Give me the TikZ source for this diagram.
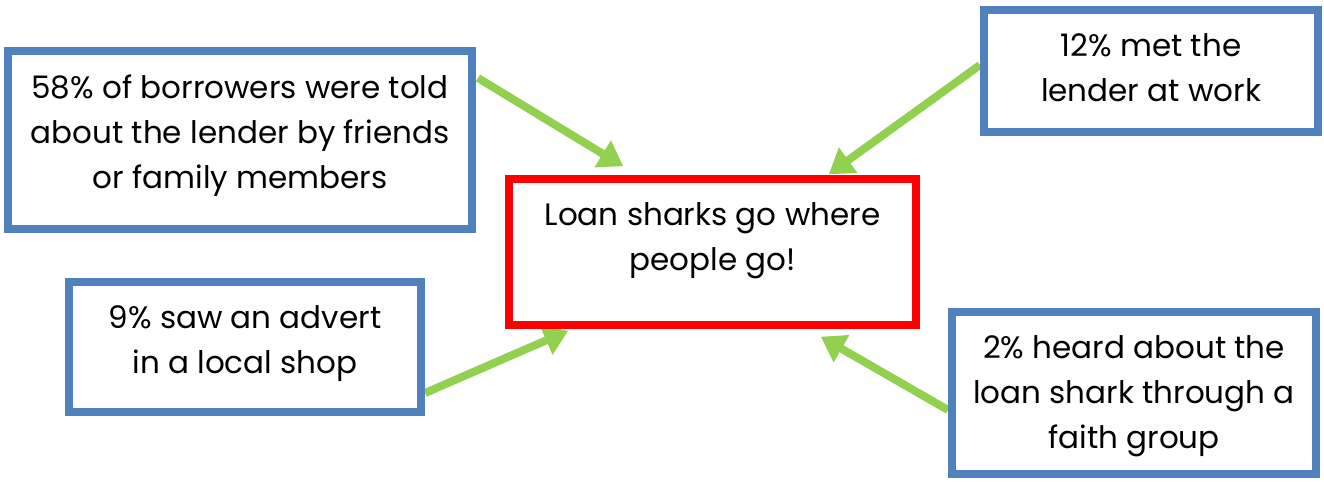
\documentclass[tikz,border=0pt]{standalone}
\usepackage{fontspec}
\setmainfont{Poppins}
\usepackage{xcolor}
\usepackage{tikz}
\usetikzlibrary{arrows.meta, positioning, calc, backgrounds}

\definecolor{boxblue}{HTML}{4F81BD}
\definecolor{arrowgreen}{HTML}{92D050}

\begin{document}
\begin{tikzpicture}[
    x=0.5pt, y=-0.5pt,
    every node/.style={font=\fontsize{15.5pt}{22.5pt}\selectfont},
    box/.style={
        draw=boxblue, line width=4pt, fill=white, inner sep=0pt
    },
    hubbox/.style={
        draw=red, line width=3.75pt, fill=white, inner sep=0pt
    },
    boxtext/.style={
        align=center, anchor=north, inner sep=0pt
    },
    arrow/.style={
        -{Triangle[length=12pt, width=15pt]}, line width=4pt, draw=arrowgreen
    }
]
\useasboundingbox (0,0) rectangle (1324,482);

% Boxes
\node[box, minimum width=232pt, minimum height=89pt] (friends) at (240,140) {};
\node[box, minimum width=167pt, minimum height=61pt] (work) at (1151,71) {};
\node[hubbox, minimum width=203.5pt, minimum height=73pt] (sharks) at (712.5,252) {};
\node[box, minimum width=176pt, minimum height=65pt] (shop) at (245,347) {};
\node[box, minimum width=182pt, minimum height=81pt] (faith) at (1134,393) {};

% Texts
\node[boxtext, below=13.5pt of friends.north] (friends_text) {58\% of borrowers were told\\about the lender by friends\\or family members};
\node[boxtext, below=13.5pt of work.north] (work_text) {12\% met the\\lender at work};
\node[boxtext, below=13.5pt of sharks.north] (sharks_text) {Loan sharks go where\\people go!};
\node[boxtext, below=13.5pt of shop.north] (shop_text) {9\% saw an advert\\in a local shop};
\node[boxtext, below=13.5pt of faith.north] (faith_text) {2\% heard about the\\loan shark through a\\faith group};

% Arrows into the centre box
\begin{scope}[on background layer]
    \draw[arrow] ($(friends.north east)+(2,31)$) -- ($(sharks.north west)+(118,-9)$);
    \draw[arrow] ($(work.west)+(0,-6)$) -- ($(sharks.north east)+(-91,-1)$);
    \draw[arrow] ($(shop.east)+(0,46)$) -- ($(sharks.south west)+(63,2)$);
    \draw[arrow] ($(faith.west)+(0,17)$) -- ($(sharks.south east)+(-99,8)$);
\end{scope}

\end{tikzpicture}
\end{document}
